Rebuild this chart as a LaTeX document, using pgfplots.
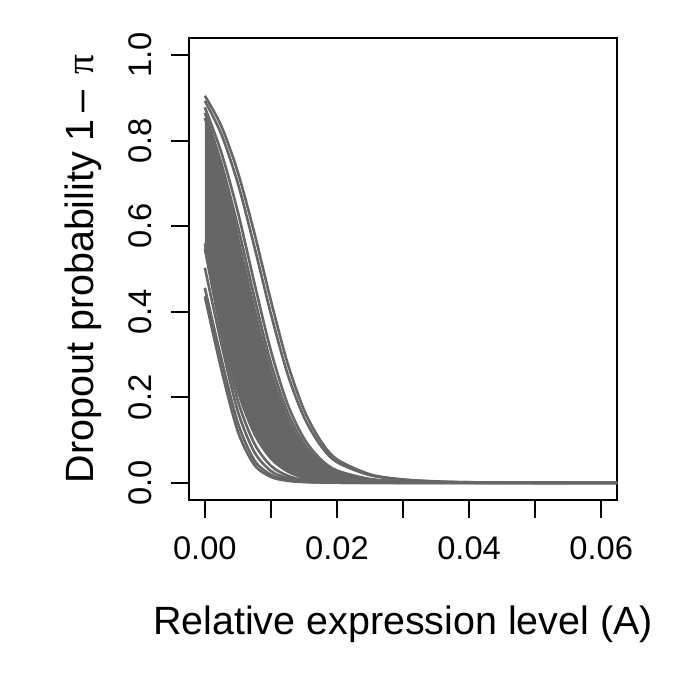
\documentclass[border=0pt]{standalone}
\usepackage{pgfplots}
\pgfplotsset{compat=1.18}
\usepgfplotslibrary{fillbetween}
\usepackage{fontspec}
\setmainfont{Liberation Sans}
\newfontfamily\symfont{Liberation Serif}
\definecolor{curve}{HTML}{666666}

\begin{document}
\begin{tikzpicture}
\begin{axis}[
  name=ax,
  scale only axis, width=214bp, height=231bp,
  xmin=-0.0024, xmax=0.0624, ymin=-0.04, ymax=1.04,
  axis line style={line width=1bp},
  tick style={line width=1bp, black},
  tick align=outside, major tick length=9bp,
  xtick pos=bottom, ytick pos=left,
  xtick={0,0.01,0.02,0.03,0.04,0.05,0.06},
  xticklabels={0.00,,0.02,,0.04,,0.06},
  ytick={0,0.2,0.4,0.6,0.8,1},
  yticklabels={0.0,0.2,0.4,0.6,0.8,1.0},
  ticklabel style={font=\fontsize{16.4}{19}\selectfont},
  yticklabel style={rotate=90, anchor=south},
  xticklabel shift=6bp, yticklabel shift=6bp,
  scaled ticks=false,
  label style={font=\fontsize{19.8}{23}\selectfont},
  xlabel={Relative expression level (A)},
  ylabel={Dropout probability 1\,–\hspace{0.4em}{\symfont π}},
  xlabel style={at={([yshift=-62bp]axis description cs:0.5,0)}, anchor=center},
  ylabel style={at={([xshift=-53bp]axis description cs:0,0.5)}, anchor=center},
  crv/.style={curve, line width=1.3bp, smooth, no marks},
]
% dense band of curves: upper and lower envelope
\addplot[crv, name path=U] coordinates {
(0,0.853)(0.0025,0.74)(0.005,0.574)(0.0075,0.407)(0.01,0.259)(0.0125,0.151)
(0.015,0.083)(0.0175,0.044)(0.02,0.023)(0.025,0.0075)(0.03,0.0028)(0.035,0.0011)
(0.04,0.0005)(0.05,0.0001)(0.065,0)};
\addplot[crv, name path=L] coordinates {
(0,0.56)(0.0025,0.37)(0.005,0.215)(0.0075,0.115)(0.01,0.057)(0.0125,0.027)
(0.015,0.012)(0.0175,0.006)(0.02,0.003)(0.025,0.001)(0.03,0.0003)(0.035,0.0001)
(0.04,0)(0.05,0)(0.065,0)};
\addplot[fill=curve, draw=none] fill between[of=U and L];

% separate curves right of the band
\addplot[crv] coordinates {
(0,0.865)(0.0025,0.747)(0.005,0.60)(0.0075,0.434)(0.01,0.28)(0.0125,0.166)
(0.015,0.092)(0.0175,0.049)(0.02,0.0255)(0.025,0.008)(0.03,0.003)(0.035,0.0012)
(0.04,0.0005)(0.05,0.0001)(0.065,0)};
\addplot[crv] coordinates {
(0,0.878)(0.0025,0.772)(0.005,0.633)(0.0075,0.467)(0.01,0.309)(0.0125,0.185)
(0.015,0.104)(0.0175,0.0556)(0.02,0.029)(0.025,0.009)(0.03,0.0035)(0.035,0.0014)
(0.04,0.0006)(0.05,0.0001)(0.065,0)};
\addplot[crv] coordinates {
(0,0.893)(0.0025,0.815)(0.005,0.70)(0.0075,0.552)(0.01,0.395)(0.0125,0.256)
(0.015,0.154)(0.0175,0.088)(0.02,0.0485)(0.025,0.018)(0.03,0.0075)(0.035,0.0032)
(0.04,0.0014)(0.05,0.0004)(0.065,0)};
\addplot[crv] coordinates {
(0,0.905)(0.0025,0.834)(0.005,0.726)(0.0075,0.584)(0.01,0.426)(0.0125,0.281)
(0.015,0.171)(0.0175,0.099)(0.02,0.055)(0.025,0.020)(0.03,0.008)(0.035,0.0035)
(0.04,0.0015)(0.05,0.0004)(0.065,0)};

% separate curves left of the band
\addplot[crv] coordinates {
(0,0.548)(0.0025,0.35)(0.005,0.192)(0.0075,0.092)(0.01,0.04)(0.0125,0.017)
(0.015,0.007)(0.02,0.002)(0.03,0.0003)(0.04,0)(0.065,0)};
\addplot[crv] coordinates {
(0,0.503)(0.0025,0.325)(0.005,0.167)(0.0075,0.072)(0.01,0.028)(0.0125,0.011)
(0.015,0.004)(0.02,0.001)(0.03,0)(0.04,0)(0.065,0)};
\addplot[crv] coordinates {
(0,0.456)(0.0025,0.29)(0.005,0.14)(0.0075,0.053)(0.01,0.019)(0.0125,0.007)
(0.015,0.0025)(0.02,0.0005)(0.03,0)(0.04,0)(0.065,0)};
\addplot[crv] coordinates {
(0,0.436)(0.0025,0.265)(0.005,0.12)(0.0075,0.042)(0.01,0.014)(0.0125,0.005)
(0.015,0.002)(0.02,0.0005)(0.03,0)(0.04,0)(0.065,0)};
\end{axis}
\pgfresetboundingbox
\path[use as bounding box] ([shift={(-94.5bp,-95bp)}]ax.south west)
  rectangle ([shift={(250.5bp,250bp)}]ax.south west);
\end{tikzpicture}
\end{document}
